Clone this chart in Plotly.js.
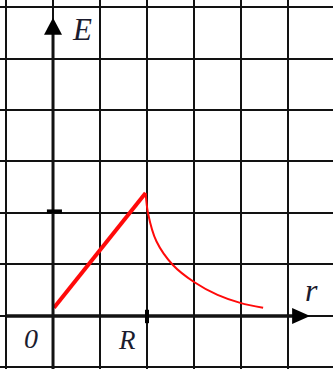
<!DOCTYPE html>
<html>
<head>
<meta charset="utf-8">
<script src="https://cdn.plot.ly/plotly-3.0.1.min.js"></script>
<style>
  html, body { margin: 0; padding: 0; background: #fff; }
  #chart { width: 333px; height: 369px; }
</style>
</head>
<body>
<div id="chart"></div>
<script>
// Field strength E(r): linear growth inside the sphere, decay outside it
const rInside = [0.02, 1.97];
const eInside = [0.16, 2.39];
const rOutside = [1.97, 2.02, 2.2, 2.55, 3.0, 3.5, 4.0, 4.47];
const eOutside = [2.39, 2.0, 1.45, 0.99, 0.66, 0.41, 0.25, 0.16];

// Marked positions on the axes and their labels
const radiusMark = 2;      // r = R
const fieldMark = 2.03;    // tick on the E axis
const axisLabels = { x: 'r', y: 'E', origin: '0', radius: 'R' };

const ink = '#121212';
const labelFont = { family: 'Liberation Serif, Times New Roman, serif', color: '#1b1b2e' };

const traces = [
  {
    x: rInside, y: eInside, mode: 'lines', hoverinfo: 'skip',
    line: { color: '#ff0a0a', width: 4 }
  },
  {
    x: rOutside, y: eOutside, mode: 'lines', hoverinfo: 'skip',
    line: { color: '#ff0a0a', width: 2, shape: 'spline', smoothing: 0.8 }
  }
];

const shapes = [
  // r axis
  { type: 'line', xref: 'x', yref: 'y', x0: -1, x1: 5.1, y0: 0, y1: 0,
    line: { color: ink, width: 3.5 } },
  // E axis
  { type: 'line', xref: 'x', yref: 'y', x0: 0, x1: 0, y0: -1.05, y1: 5.5,
    line: { color: ink, width: 3 } },
  // arrow heads
  { type: 'path', xref: 'x', yref: 'y', xsizemode: 'pixel', ysizemode: 'pixel',
    xanchor: 5.47, yanchor: 0, path: 'M0,0 L-18,8 L-18,-8 Z',
    fillcolor: '#000', line: { width: 0 } },
  { type: 'path', xref: 'x', yref: 'y', xsizemode: 'pixel', ysizemode: 'pixel',
    xanchor: 0, yanchor: 5.79, path: 'M0,0 L-9,-17 L9,-17 Z',
    fillcolor: '#000', line: { width: 0 } },
  // tick at r = R
  { type: 'line', xref: 'x', yref: 'y', x0: radiusMark, x1: radiusMark, y0: -0.14, y1: 0.12,
    line: { color: '#000', width: 4 } },
  // tick on the E axis
  { type: 'line', xref: 'x', yref: 'y', x0: -0.13, x1: 0.19, y0: fieldMark, y1: fieldMark,
    line: { color: '#000', width: 4 } }
];

const annotations = [
  { x: 0.62, y: 5.57, text: '<i>' + axisLabels.y + '</i>', font: Object.assign({ size: 31 }, labelFont) },
  { x: 5.51, y: 0.5, text: '<i>' + axisLabels.x + '</i>', font: Object.assign({ size: 32 }, labelFont) },
  { x: 1.57, y: -0.47, text: '<i>' + axisLabels.radius + '</i>', font: Object.assign({ size: 27 }, labelFont) },
  { x: -0.47, y: -0.43, text: '<i>' + axisLabels.origin + '</i>', font: Object.assign({ size: 28 }, labelFont) }
].map(a => Object.assign({ xref: 'x', yref: 'y', showarrow: false, xanchor: 'center', yanchor: 'middle' }, a));

const gridAxis = {
  dtick: 1, tick0: 0, showticklabels: false, ticks: '',
  showgrid: true, gridcolor: ink, gridwidth: 2,
  zeroline: false, showline: false, fixedrange: true
};

const layout = {
  width: 333, height: 369,
  margin: { l: 0, r: 0, t: 0, b: 0 },
  paper_bgcolor: '#fff', plot_bgcolor: '#fff',
  showlegend: false,
  xaxis: Object.assign({ range: [-1.128, 5.957] }, gridAxis),
  yaxis: Object.assign({ range: [-1.03, 6.136] }, gridAxis),
  shapes: shapes,
  annotations: annotations
};

Plotly.newPlot('chart', traces, layout, { staticPlot: true, displayModeBar: false });
</script>
</body>
</html>
